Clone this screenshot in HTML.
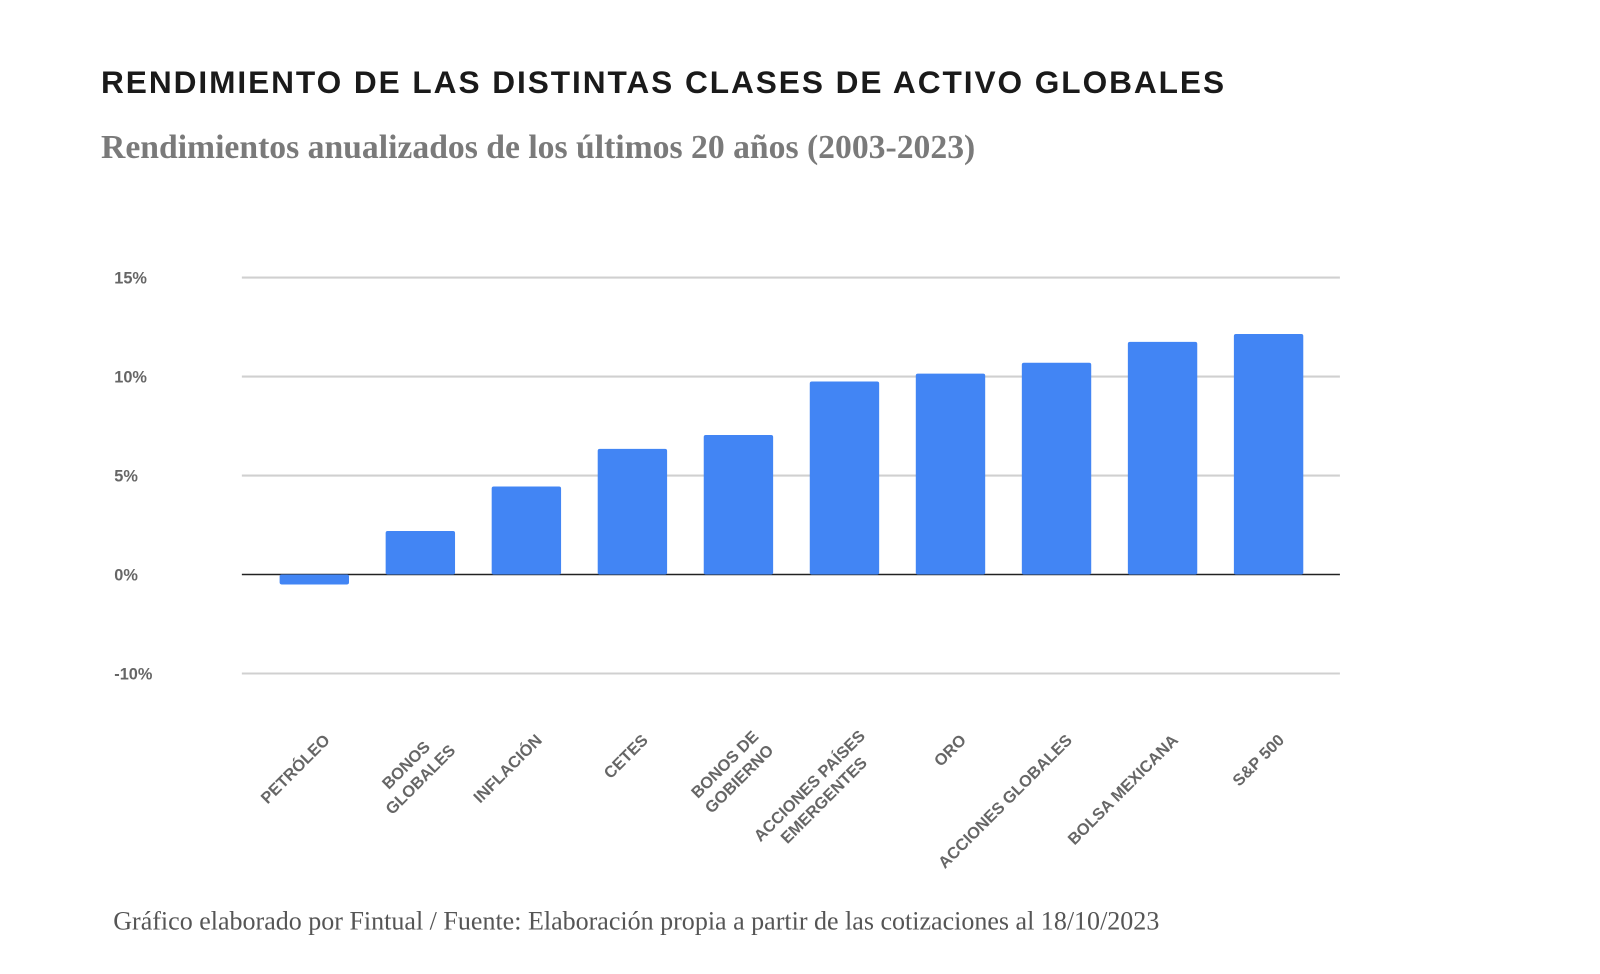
<!DOCTYPE html>
<html><head><meta charset="utf-8"><style>
body{margin:0;background:#fff;width:1600px;height:974px;overflow:hidden}
svg{display:block}
</style></head><body>
<svg width="1600" height="974" xmlns="http://www.w3.org/2000/svg">
<g transform="scale(1.0205)">
<text x="99" y="91" font-family="Liberation Sans, sans-serif" font-weight="bold" font-size="31" letter-spacing="1.9" fill="#1a1a1a">RENDIMIENTO DE LAS DISTINTAS CLASES DE ACTIVO GLOBALES</text>
<text x="99" y="155" font-family="Liberation Serif, serif" font-weight="bold" font-size="33" fill="#7a7a7a">Rendimientos anualizados de los últimos 20 años (2003-2023)</text>
<text x="111" y="911" font-family="Liberation Serif, serif" font-size="25.5" fill="#555">Gráfico elaborado por Fintual / Fuente: Elaboración propia a partir de las cotizaciones al 18/10/2023</text>
<g id="grid"></g>
<g id="bars"></g>
<g id="labels"></g>
</g>
</svg>
<script>
const categories=[["PETRÓLEO"],["BONOS","GLOBALES"],["INFLACIÓN"],["CETES"],["BONOS DE","GOBIERNO"],["ACCIONES PAÍSES","EMERGENTES"],["ORO"],["ACCIONES GLOBALES"],["BOLSA MEXICANA"],["S&P 500"]];
const values=[-0.5,2.2,4.45,6.35,7.05,9.75,10.15,10.7,11.75,12.15];
const tickValues=[15,10,5,0,-5];
const tickLabels=["15%","10%","5%","0%","-10%"];
const NS="http://www.w3.org/2000/svg";
const y0=563,ppu=19.4;
const y=v=>y0-v*ppu;
const x=i=>308+i*103.9;
const grid=document.getElementById('grid'),bars=document.getElementById('bars'),labels=document.getElementById('labels');
function mk(t,a,p){const e=document.createElementNS(NS,t);for(const k in a)e.setAttribute(k,a[k]);p.appendChild(e);return e;}
tickValues.forEach((v,i)=>{
 const l=mk('line',{x1:237,x2:1313,y1:y(v),y2:y(v),stroke:v===0?'#222':'#d0d0d0','stroke-width':v===0?1.5:2},grid);
 
 
 const t=mk('text',{x:112,y:y(v)+6,'font-family':'Liberation Sans, sans-serif','font-size':16,'font-weight':'bold',fill:'#666'},grid);
 t.textContent=tickLabels[i];
 
 
});
values.forEach((v,i)=>{
 const top=Math.min(y(v),y0),h=Math.abs(y(v)-y0);
 const r=mk('rect',{x:x(i)-34,y:top,width:68,height:h,rx:2,fill:'#4285f4'},bars);
 
 
});
categories.forEach((lines,i)=>{
 const n=lines.length;
 const ex=x(i)+(n>1?24:12),ey=722+(n>1?3:0);
 const g=mk('g',{},labels);
 
 
 const t=mk('text',{'font-family':'Liberation Sans, sans-serif','font-size':16,'font-weight':'bold',fill:'#666','text-anchor':'middle'},g);
 const tsp=[];
 lines.forEach((s,j)=>{const sp=mk('tspan',{x:0,y:(j-(n-1)/2)*20+6},t);sp.textContent=s;tsp.push(sp);});
 let w=0;tsp.forEach(s=>w=Math.max(w,s.getComputedTextLength()));
 g.setAttribute('transform',`translate(${ex},${ey}) rotate(-45) translate(${-w/2},0)`);
});
</script>
</body></html>
